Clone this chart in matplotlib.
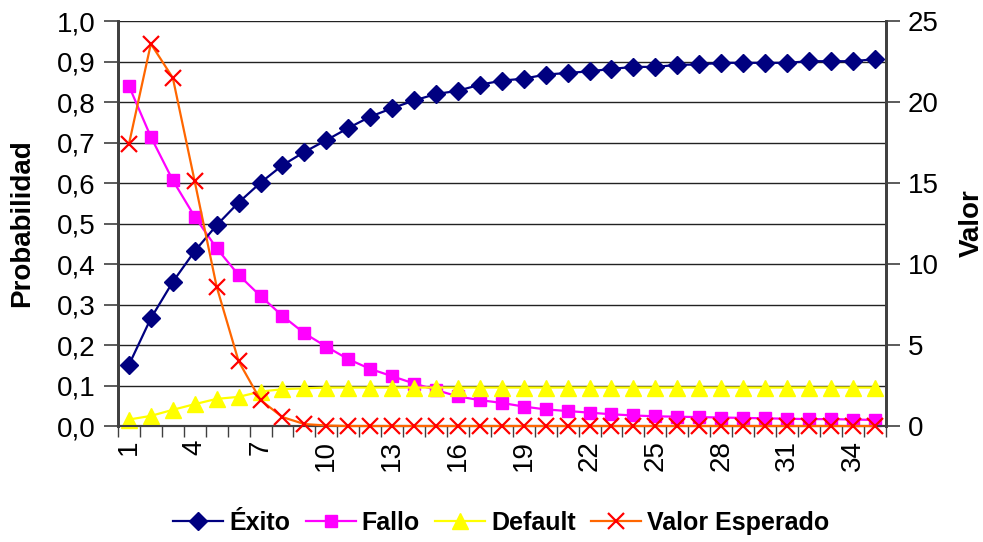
import numpy as np
import matplotlib.pyplot as plt
from matplotlib.ticker import FixedLocator, FixedFormatter

plt.rcParams['font.family'] = ['Liberation Sans', 'DejaVu Sans']

periods = np.arange(1, 36)

exito = [0.151, 0.266, 0.356, 0.432, 0.496, 0.552, 0.601, 0.644, 0.677, 0.706,
         0.736, 0.764, 0.785, 0.804, 0.820, 0.828, 0.843, 0.853, 0.858, 0.868,
         0.872, 0.876, 0.882, 0.887, 0.887, 0.892, 0.893, 0.897, 0.897, 0.897,
         0.897, 0.901, 0.901, 0.901, 0.906]

fallo = [0.840, 0.714, 0.607, 0.517, 0.439, 0.373, 0.321, 0.272, 0.229, 0.196,
         0.165, 0.141, 0.123, 0.105, 0.089, 0.073, 0.064, 0.057, 0.048, 0.041,
         0.037, 0.033, 0.029, 0.026, 0.024, 0.023, 0.022, 0.021, 0.020, 0.019,
         0.018, 0.017, 0.017, 0.016, 0.015]

default = [0.016, 0.025, 0.040, 0.054, 0.067, 0.072, 0.085, 0.091, 0.093, 0.095,
           0.095, 0.095, 0.095, 0.095, 0.095, 0.095, 0.095, 0.095, 0.095, 0.095,
           0.095, 0.095, 0.095, 0.095, 0.095, 0.095, 0.095, 0.095, 0.095, 0.095,
           0.095, 0.095, 0.095, 0.095, 0.095]

valor = [17.4, 23.6, 21.5, 15.1, 8.6, 4.0, 1.6, 0.55, 0.12, 0.03,
         0, 0, 0, 0, 0, 0, 0, 0, 0, 0,
         0, 0, 0, 0, 0, 0, 0, 0, 0, 0,
         0, 0, 0, 0, 0]

left_ticks = np.round(np.arange(0, 1.01, 0.1), 1)
left_labels = ['0,0', '0,1', '0,2', '0,3', '0,4', '0,5', '0,6', '0,7', '0,8', '0,9', '1,0']
right_ticks = [0, 5, 10, 15, 20, 25]
x_labels = periods[::3]

fig = plt.figure(figsize=(9.83, 5.42), dpi=100)
ax = fig.add_axes([0.120, 0.214, 0.781, 0.747])
ax2 = ax.twinx()

ax.plot(periods, exito, color='#000080', marker='D', markersize=9, lw=1.6,
        label='Éxito', clip_on=False, zorder=4)
ax.plot(periods, fallo, color='#FF00FF', marker='s', markersize=9, lw=1.6,
        label='Fallo', clip_on=False, zorder=3)
ax.plot(periods, default, color='#FFFF00', marker='^', markersize=11, lw=1.6,
        label='Default', clip_on=False, zorder=3)
ax2.plot(periods, valor, color='#FF6600', lw=1.6, marker='x', markersize=11,
         markeredgecolor='#FF0000', markeredgewidth=1.6,
         label='Valor Esperado', clip_on=False, zorder=5)

ax.set_xlim(0.5, 35.5)
ax.set_ylim(0, 1)
ax2.set_ylim(0, 25)

ax.set_yticks(left_ticks)
ax.set_yticklabels(left_labels)
ax.yaxis.grid(True, color='#222222', lw=1.0)
ax.set_axisbelow(True)

ax.xaxis.set_major_locator(FixedLocator(x_labels))
ax.xaxis.set_major_formatter(FixedFormatter([str(v) for v in x_labels]))
ax.xaxis.set_minor_locator(FixedLocator(np.arange(0.5, 36, 1)))
ax.tick_params(axis='x', which='major', length=0, labelsize=20, rotation=90, pad=10)
ax.tick_params(axis='x', which='minor', length=8, width=1, color='#404040')
ax.tick_params(axis='y', length=10, width=1.2, color='#404040', labelsize=20, pad=6)

ax2.set_yticks(right_ticks)
ax2.tick_params(axis='y', length=10, width=1.2, color='#404040', labelsize=20, pad=6)

for a in (ax, ax2):
    for side in ('left', 'right'):
        a.spines[side].set_color('#404040')
        a.spines[side].set_linewidth(2)
    a.spines['top'].set_visible(False)
    a.spines['bottom'].set_color('#404040')
    a.spines['bottom'].set_linewidth(1.5)

ax.set_ylabel('Probabilidad', fontsize=20, fontweight='bold', labelpad=16)
ax2.set_ylabel('Valor', fontsize=20, fontweight='bold', labelpad=14)

h1, l1 = ax.get_legend_handles_labels()
h2, l2 = ax2.get_legend_handles_labels()
fig.legend(h1 + h2, l1 + l2, loc='center', bbox_to_anchor=(0.51, 0.035), ncol=4,
           frameon=False, prop={'size': 18, 'weight': 'bold'},
           handlelength=2.0, handletextpad=0.25, columnspacing=0.6)

plt.savefig('out.png', dpi=100)
